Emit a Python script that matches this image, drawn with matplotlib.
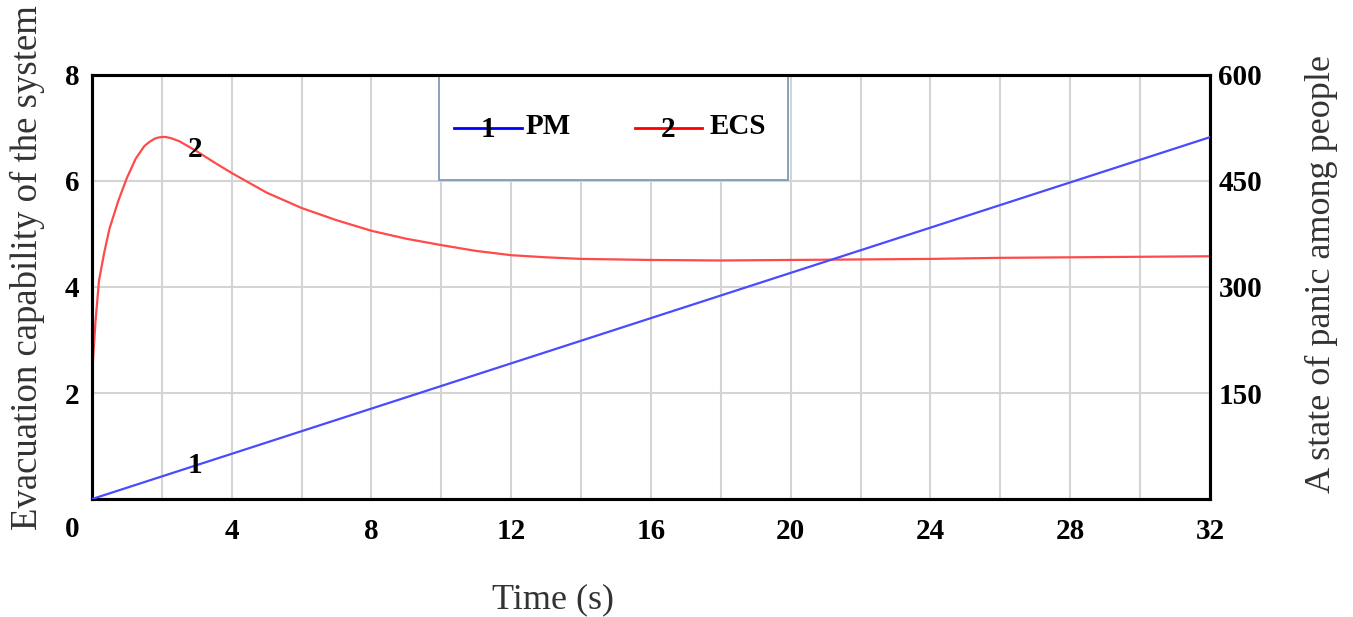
import matplotlib
matplotlib.use('Agg')
import matplotlib.pyplot as plt
from matplotlib.patches import Rectangle
from matplotlib.lines import Line2D

plt.rcParams['font.family'] = ['Liberation Serif', 'DejaVu Serif']

# simulation output
time_pm = [0, 4, 8, 12, 16, 20, 24, 28, 32]
pm = [0, 64, 128, 192, 256, 320, 384, 448, 512]

time_ecs = [0, 0.04, 0.1, 0.2, 0.35, 0.5, 0.75, 1.0, 1.25, 1.5, 1.65, 1.8, 1.9, 2.0,
            2.1, 2.25, 2.5, 3.0, 3.5, 4.0, 5.0, 6.0, 7.0, 8.0, 9.0, 10.0, 11.0, 12.0,
            13.0, 14.0, 16.0, 18.0, 20.0, 22.0, 24.0, 26.0, 28.0, 30.0, 32.0]
ecs = [2.24, 2.74, 3.35, 4.12, 4.65, 5.1, 5.62, 6.06, 6.42, 6.66, 6.74, 6.8, 6.82, 6.83,
       6.83, 6.81, 6.75, 6.56, 6.35, 6.15, 5.78, 5.49, 5.26, 5.06, 4.91, 4.79, 4.68, 4.60,
       4.56, 4.53, 4.51, 4.50, 4.51, 4.52, 4.53, 4.55, 4.56, 4.57, 4.58]

x_ticks = [4, 8, 12, 16, 20, 24, 28, 32]
left_ticks = [2, 4, 6, 8]
right_ticks = [150, 300, 450, 600]

fig = plt.figure(figsize=(13.53, 6.17), dpi=100)
ax = fig.add_axes([0.068, 0.1912, 0.8263, 0.6873])
ax2 = ax.twinx()

ax.set_xlim(0, 32)
ax.set_ylim(0, 8)
ax2.set_ylim(0, 600)

# grid every 2 s, horizontal lines at the labelled values
ax.set_xticks(range(0, 33, 2))
ax.set_xticklabels(['' if t not in x_ticks else str(t) for t in range(0, 33, 2)])
ax.set_yticks([0] + left_ticks)
ax.set_yticklabels([''] + [str(v) for v in left_ticks])
ax.grid(True, color='#d4d4d4', linewidth=1.5)
ax.set_axisbelow(True)

ax2.set_yticks([0] + right_ticks)
ax2.set_yticklabels([''] + [str(v) for v in right_ticks])

for a in (ax, ax2):
    a.tick_params(length=0, labelsize=21)
    for lab in a.get_xticklabels() + a.get_yticklabels():
        lab.set_fontweight('bold')
    for s in a.spines.values():
        s.set_linewidth(2.2)
        s.set_color('black')
ax.tick_params(axis='x', pad=14)
ax.tick_params(axis='y', pad=9)
ax2.tick_params(axis='y', pad=6)

ax.text(-0.018, -0.073, '0', transform=ax.transAxes, ha='center', va='center',
        fontsize=21, fontweight='bold')

ax.plot(time_ecs, ecs, color='#ff4a4a', linewidth=1.6, zorder=3)
ax2.plot(time_pm, pm, color='#4a4aff', linewidth=1.6, zorder=3)

# curve numbers on the lines
ax.text(2.95, 6.6, '2', ha='center', va='center', fontsize=21, fontweight='bold')
ax2.text(2.95, 47, '1', ha='center', va='center', fontsize=21, fontweight='bold')

# legend box
ax.add_patch(Rectangle((0.310, 0.753), 0.3125, 0.247, transform=ax.transAxes,
                       facecolor='white', edgecolor='#7f9ab8', linewidth=1.3, zorder=5))
ax.add_line(Line2D([0.324, 0.385], [0.875, 0.875], transform=ax.transAxes,
                   color='blue', linewidth=2, zorder=6))
ax.text(0.354, 0.872, '1', transform=ax.transAxes, ha='center', va='center',
        fontsize=21, fontweight='bold', zorder=7)
ax.text(0.388, 0.878, 'PM', transform=ax.transAxes, ha='left', va='center',
        fontsize=21, fontweight='bold', zorder=7)
ax.add_line(Line2D([0.486, 0.546], [0.875, 0.875], transform=ax.transAxes,
                   color='red', linewidth=2, zorder=6))
ax.text(0.515, 0.872, '2', transform=ax.transAxes, ha='center', va='center',
        fontsize=21, fontweight='bold', zorder=7)
ax.text(0.552, 0.878, 'ECS', transform=ax.transAxes, ha='left', va='center',
        fontsize=21, fontweight='bold', zorder=7)

# axis titles
fig.text(0.409, 0.028, 'Time (s)', ha='center', va='center', fontsize=26, color='#333333')
fig.text(0.020, 0.141, 'Evacuation capability of the system', rotation=90,
         ha='center', va='bottom', fontsize=26.5, color='#333333')
fig.text(0.977, 0.201, 'A state of panic among people', rotation=90,
         ha='center', va='bottom', fontsize=26, color='#333333')

fig.savefig('out.png', dpi=100)
